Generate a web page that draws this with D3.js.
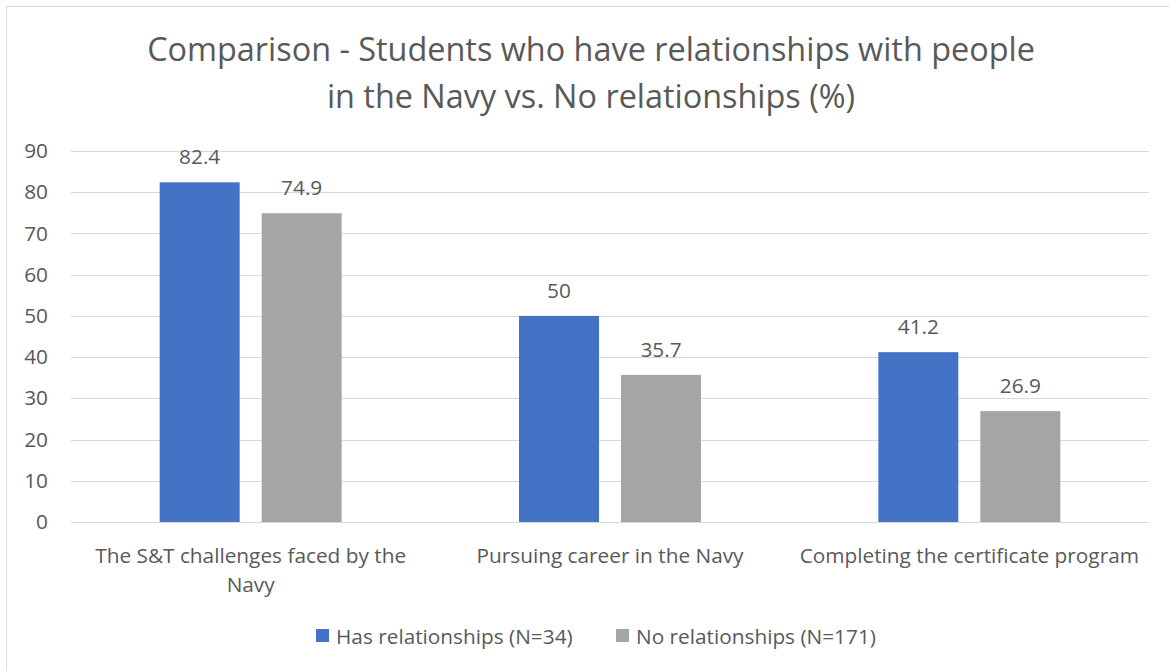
<!DOCTYPE html>
<html>
<head>
<meta charset="utf-8">
<script src="https://cdn.jsdelivr.net/npm/d3@7"></script>
<style>
  html, body { margin: 0; padding: 0; background: #fff; }
  svg { display: block; }
  text { font-family: "Open Sans", "Noto Sans", sans-serif; fill: #595959; }
</style>
</head>
<body>
<svg id="chart" width="1169" height="671"></svg>
<script>
const titleLines = ["Comparison - Students who have relationships with people", "in the Navy vs. No relationships (%)"];
const categories = ["The S&T challenges faced by the Navy", "Pursuing career in the Navy", "Completing the certificate program"];
const categoryLines = [["The S&T challenges faced by the", "Navy"], ["Pursuing career in the Navy"], ["Completing the certificate program"]];
const seriesNames = ["Has relationships (N=34)", "No relationships (N=171)"];
const hasRelationships = [82.4, 50, 41.2];
const noRelationships = [74.9, 35.7, 26.9];
const yTicks = [0, 10, 20, 30, 40, 50, 60, 70, 80, 90];
const colors = ["#4472C4", "#A5A5A5"];

const svg = d3.select("#chart");
const W = 1169, H = 671;
const margin = { left: 71, top: 151 };
const plotRight = 1149, plotBottom = 522;
const FS = 20.8;

// border
svg.append("rect").attr("x", 6.5).attr("y", 6.5).attr("width", W).attr("height", H)
  .attr("fill", "#fff").attr("stroke", "#D9D9D9").attr("stroke-width", 1);

function fitText(sel, target) {
  sel.each(function() {
    const len = this.getComputedTextLength();
    const fs = parseFloat(d3.select(this).attr("font-size"));
    if (len > 0) d3.select(this).attr("font-size", fs * target / len);
  });
}

// title
const t1 = svg.append("text").attr("x", 591).attr("y", 61).attr("text-anchor", "middle")
  .attr("font-size", 28).text(titleLines[0]);
fitText(t1, 888);
svg.append("text").attr("x", 591).attr("y", 108).attr("text-anchor", "middle")
  .attr("font-size", t1.attr("font-size")).text(titleLines[1]);

const x0 = d3.scaleBand().domain(categories).range([margin.left, plotRight]);
const y = d3.scaleLinear().domain([0, 90]).range([plotBottom, margin.top]);

// gridlines
svg.append("g").selectAll("line").data(yTicks).join("line")
  .attr("x1", margin.left).attr("x2", plotRight)
  .attr("y1", d => Math.round(y(d)) + 0.5).attr("y2", d => Math.round(y(d)) + 0.5)
  .attr("stroke", "#D9D9D9").attr("stroke-width", 1);

// y axis labels
const yAxis = d3.axisLeft(y).tickValues(yTicks).tickSize(0).tickPadding(0);
const gy = svg.append("g").attr("transform", `translate(48,0)`).call(yAxis);
gy.select(".domain").remove();
gy.selectAll("text").attr("font-size", FS).attr("fill", "#595959")
  .style("font-family", '"Open Sans", "Noto Sans", sans-serif');

// bars
const barW = 80, gap = 22;
const series = [hasRelationships, noRelationships];
series.forEach((vals, si) => {
  const g = svg.append("g");
  g.selectAll("rect").data(vals).join("rect")
    .attr("x", (d, i) => x0(categories[i]) + x0.bandwidth() / 2 + (si === 0 ? -(gap / 2 + barW) : gap / 2))
    .attr("y", d => y(d))
    .attr("width", barW)
    .attr("height", d => y(0) - y(d))
    .attr("fill", colors[si]);
  g.selectAll("text").data(vals).join("text")
    .attr("x", (d, i) => x0(categories[i]) + x0.bandwidth() / 2 + (si === 0 ? -(gap / 2 + barW / 2) : gap / 2 + barW / 2))
    .attr("y", d => y(d) - 18)
    .attr("text-anchor", "middle")
    .attr("font-size", FS)
    .text(d => d);
});

// x labels
const catWidths = [[312, 0], [0], [343]];
categories.forEach((c, i) => {
  categoryLines[i].forEach((line, li) => {
    svg.append("text")
      .attr("x", x0(c) + x0.bandwidth() / 2)
      .attr("y", 563 + li * 28.5)
      .attr("text-anchor", "middle")
      .attr("font-size", FS)
      .text(line);
  });
});

// legend
const legendX = [316, 616];
seriesNames.forEach((n, i) => {
  svg.append("rect").attr("x", legendX[i]).attr("y", 629).attr("width", 13).attr("height", 13).attr("fill", colors[i]);
  svg.append("text").attr("x", legendX[i] + 20).attr("y", 644).attr("font-size", FS).text(n);
});
</script>
</body>
</html>
